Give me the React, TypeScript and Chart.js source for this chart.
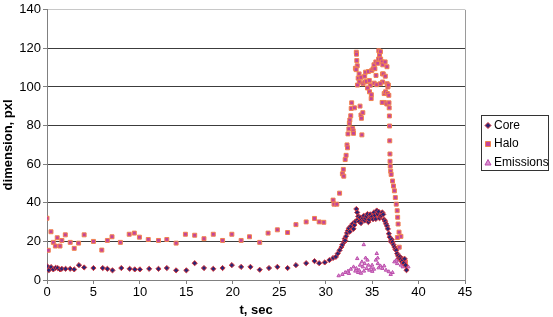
import React, { useEffect, useRef } from "react";
import { Chart, registerables } from "chart.js";

Chart.register(...registerables);

const xTicks = [0, 5, 10, 15, 20, 25, 30, 35, 40, 45];
const yTicks = [0, 20, 40, 60, 80, 100, 120, 140];
const seriesNames = ["Core", "Halo", "Emissions"];

const coreT = [
  0, 0.2, 0.43, 0.68, 0.93, 1.15, 1.4, 1.6, 2.0, 2.5, 2.93, 3.44, 4.0, 5.0, 6.0, 6.5, 7.05, 8.0, 8.9, 9.45,
  10.0, 11.0, 12.0, 12.9, 13.9, 15.0, 15.9, 16.9, 17.9, 18.9, 19.9, 20.9, 21.9, 22.9, 23.9, 24.8, 25.9, 26.8,
  27.9, 28.8, 29.3, 29.9, 30.4, 30.8, 31.1, 31.3, 31.5, 31.7, 31.8, 32.0, 32.05, 32.1, 32.2, 32.3, 32.4, 32.5,
  32.6, 32.7, 32.9, 33.0, 33.1, 33.2, 33.3, 33.4, 33.45, 33.5, 33.6, 33.7, 33.8, 33.9, 34.0, 34.1, 34.2, 34.3,
  34.4, 34.5, 34.6, 34.7, 34.8, 34.9, 35.0, 35.1, 35.2, 35.3, 35.4, 35.5, 35.6, 35.7, 35.8, 35.9, 36.0, 36.1,
  36.2, 36.3, 36.4, 36.5, 36.6, 36.7, 36.8, 36.9, 37.0, 37.1, 37.2, 37.3, 37.4, 37.5, 37.6, 37.7, 37.8, 37.9,
  38.0, 38.1, 38.2, 38.3, 38.4, 38.5, 38.6, 38.7,
];
const coreV = [
  7.2, 5.1, 6.7, 5.5, 6.3, 6.2, 5.5, 5.8, 5.8, 5.8, 5.5, 7.7, 6.5, 6.2, 6.2, 5.8, 5.0, 6.2, 5.8, 5.5,
  5.5, 5.8, 5.8, 6.2, 5.0, 5.0, 8.7, 6.2, 5.8, 6.2, 7.7, 6.8, 6.8, 5.3, 6.2, 6.8, 6.2, 7.7,
  8.7, 9.8, 8.7, 9.1, 10.3, 11.4, 12.0, 13.7, 15.4, 17.1, 18.3, 19.7, 21.4, 20.5, 22.7, 24.4, 25.6, 26.8,
  25.0, 27.8, 29.1, 26.5, 28.5, 30.3, 36.8, 35.0, 31.3, 33.0, 30.3, 32.5, 29.5, 31.3, 32.0, 33.3, 30.8, 31.9,
  33.0, 34.2, 30.0, 31.3, 34.0, 32.5, 33.0, 31.5, 35.0, 33.5, 31.6, 36.0, 34.2, 35.4, 32.0, 33.0, 33.5, 35.0,
  34.0, 31.3, 30.5, 29.1, 28.0, 26.5, 24.0, 22.2, 20.0, 21.0, 19.7, 18.3, 17.1, 16.0, 15.4, 13.7, 12.5, 11.4,
  12.0, 10.8, 9.5, 10.3, 8.8, 11.0, 7.7, 5.1,
];

const haloT = [
  0, 0.14, 0.43, 0.68, 0.9, 1.1, 1.4, 1.6, 1.97, 2.5, 2.93, 3.4, 4.0, 5.0, 5.9, 6.5, 7.0, 7.9, 8.85, 9.4,
  9.95, 10.9, 12.0, 12.9, 13.9, 14.9, 15.9, 16.9, 17.9, 18.9, 19.9, 20.9, 21.8, 22.9, 23.8, 24.8, 25.9, 26.8,
  27.9, 28.8, 29.3, 29.8, 30.8, 30.9, 31.2, 31.5, 31.8, 31.9, 31.95, 32.1, 32.2, 32.3, 32.35, 32.4, 32.5, 32.55,
  32.6, 32.7, 32.75, 32.8, 32.9, 32.96, 33.0, 33.1, 33.7, 33.8, 33.85, 34.0, 33.9, 33.3, 33.32, 33.35, 33.4, 33.2,
  33.28, 33.6, 33.5, 33.62, 33.42, 33.8, 34.02, 34.2, 34.22, 34.3, 34.4, 34.6, 34.7, 34.8, 34.5, 34.72, 34.9, 34.92,
  34.95, 35.1, 35.2, 35.3, 35.4, 35.22, 35.42, 35.5, 35.6, 35.7, 35.8, 35.72, 35.9, 35.92, 36.1, 36.15, 36.4, 36.6,
  36.12, 36.2, 36.42, 36.13, 35.88, 36.62, 36.7, 36.3, 36.45, 36.32, 36.08, 36.58, 36.65, 36.8, 36.75, 36.82, 36.84, 36.86,
  36.88, 36.9, 36.92, 36.93, 36.95, 37.0, 37.05, 37.2, 37.3, 37.4, 37.5, 37.6, 37.7, 37.75, 37.8, 37.9, 38.1, 37.72,
  37.92, 38.12, 38.3, 38.6,
];
const haloV = [
  32.0, 15.4, 25.0, 19.5, 17.6, 21.9, 17.6, 20.5, 23.4, 19.5, 16.4, 19.1, 23.4, 20.0, 15.5, 20.5, 22.4, 19.5, 23.7, 24.3,
  22.2, 21.0, 20.5, 21.0, 19.1, 23.7, 23.2, 21.4, 23.7, 20.5, 23.7, 20.5, 22.4, 19.5, 24.3, 26.0, 24.6, 28.7,
  30.1, 31.9, 30.1, 29.9, 41.4, 39.3, 39.3, 45.0, 55.0, 57.3, 53.8, 62.4, 64.6, 70.0, 68.5, 75.7, 78.3, 81.2,
  82.9, 85.1, 88.9, 91.8, 78.6, 77.3, 76.0, 89.2, 90.1, 85.5, 83.8, 86.7, 75.2, 118.0, 117.0, 113.7, 111.0, 109.7,
  109.0, 106.8, 104.6, 102.6, 101.0, 105.0, 101.7, 105.6, 102.6, 107.7, 102.9, 108.0, 103.4, 100.9, 99.5, 97.5, 94.0, 96.0,
  108.5, 109.4, 111.5, 109.5, 113.0, 102.0, 106.0, 101.2, 112.3, 114.5, 116.6, 118.8, 118.3, 114.5, 113.0, 111.5, 113.0, 110.5,
  106.8, 106.8, 105.6, 102.6, 101.7, 101.7, 100.0, 96.6, 97.5, 92.0, 92.0, 91.2, 96.6, 95.7, 101.0, 91.8, 89.2, 85.0,
  79.8, 72.1, 65.3, 61.5, 59.0, 56.4, 54.7, 51.3, 48.7, 46.2, 42.7, 39.3, 35.9, 32.5, 29.0, 24.8, 22.6, 22.0,
  17.0, 11.1, 10.3, 9.4,
];

const emT = [
  31.4, 31.8, 32.1, 32.4, 32.5, 32.7, 33.0, 33.2, 33.3, 33.4, 33.5, 33.6, 33.7, 33.8, 33.9, 34.0, 34.1, 34.12,
  34.2, 34.3, 34.4, 34.5, 34.6, 34.7, 34.9, 35.0, 35.02, 35.2, 35.4, 35.5, 35.6, 35.62, 35.7, 35.9, 36.1, 36.3,
  36.5, 36.8, 37.0, 37.2, 37.4, 37.6, 37.7, 37.9, 38.1, 38.3, 38.5, 38.6, 38.7, 38.9,
];
const emV = [
  2.2, 2.9, 3.9, 4.6, 3.4, 5.6, 6.8, 4.6, 6.0, 11.1, 3.9, 5.1, 7.7, 3.5, 9.4, 6.8, 18.3, 4.6,
  8.5, 11.4, 6.0, 10.3, 7.7, 5.1, 6.3, 7.7, 4.5, 5.6, 10.3, 13.7, 11.4, 8.5, 6.3, 7.3, 6.0, 7.3,
  5.1, 4.3, 2.9, 3.9, 9.4, 10.3, 8.5, 10.3, 7.7, 6.8, 8.5, 7.3, 6.0, 6.8,
];

const pts = (t: number[], v: number[]) => t.map((x, i) => ({ x, y: v[i] }));

const FONT = "'Liberation Sans', Arial, sans-serif";

const styles = {
  core: { bg: "#2c2574", border: "#d8383c", shape: "rectRot", radius: 2.6 },
  halo: { bg: "#c4449a", border: "#f2844e", shape: "rect", radius: 2.8 },
  em: { bg: "#d98fd0", border: "#bb4cab", shape: "triangle", radius: 2 },
};

const framePlugin = {
  id: "frame",
  afterDatasetsDraw(chart: any) {
    const { ctx, chartArea } = chart;
    ctx.save();
    ctx.strokeStyle = "#9a9a9a";
    ctx.lineWidth = 1;
    ctx.beginPath();
    ctx.moveTo(Math.round(chartArea.right) + 0.5, chartArea.top);
    ctx.lineTo(Math.round(chartArea.right) + 0.5, chartArea.bottom);
    ctx.stroke();
    ctx.restore();
  },
};

const legendPlugin = {
  id: "boxLegend",
  afterDraw(chart: any) {
    const { ctx } = chart;
    ctx.save();
    const left = 481.5;
    const top = 115.5;
    const w = 67;
    const h = 55;
    ctx.fillStyle = "#ffffff";
    ctx.fillRect(left, top, w, h);
    ctx.strokeStyle = "#333333";
    ctx.lineWidth = 1;
    ctx.strokeRect(left, top, w, h);
    const items = [styles.core, styles.halo, styles.em];
    const ys = [125.5, 144, 162.5];
    ctx.font = `12px ${FONT}`;
    ctx.textBaseline = "middle";
    ctx.textAlign = "left";
    items.forEach((s, i) => {
      const cx = 488;
      const cy = ys[i];
      ctx.fillStyle = s.bg;
      ctx.strokeStyle = s.border;
      ctx.lineWidth = 1;
      ctx.beginPath();
      if (s.shape === "rectRot") {
        ctx.moveTo(cx, cy - 3);
        ctx.lineTo(cx + 3, cy);
        ctx.lineTo(cx, cy + 3);
        ctx.lineTo(cx - 3, cy);
        ctx.closePath();
      } else if (s.shape === "rect") {
        ctx.rect(cx - 2.5, cy - 2.5, 5, 5);
      } else {
        ctx.moveTo(cx, cy - 3);
        ctx.lineTo(cx + 3, cy + 2.5);
        ctx.lineTo(cx - 3, cy + 2.5);
        ctx.closePath();
      }
      ctx.fill();
      ctx.stroke();
      ctx.fillStyle = "#000000";
      ctx.fillText(seriesNames[i], 494, cy);
    });
    ctx.restore();
  },
};

export default function App() {
  const ref = useRef<HTMLCanvasElement | null>(null);

  useEffect(() => {
    if (!ref.current) return;
    const mk = (label: string, data: any[], s: any, order: number) => ({
      label,
      data,
      order,
      backgroundColor: s.bg,
      borderColor: s.border,
      borderWidth: 1,
      pointStyle: s.shape,
      pointRadius: s.radius,
      pointHoverRadius: s.radius,
      showLine: false,
    });
    const chart = new Chart(ref.current, {
      type: "scatter",
      data: {
        datasets: [
          mk(seriesNames[0], pts(coreT, coreV), styles.core, 0),
          mk(seriesNames[1], pts(haloT, haloV), styles.halo, 2),
          mk(seriesNames[2], pts(emT, emV), styles.em, 1),
        ],
      },
      options: {
        animation: false,
        responsive: false,
        maintainAspectRatio: false,
        layout: { padding: { top: 7, right: 88, left: 0, bottom: 0 } },
        plugins: { legend: { display: false }, tooltip: { enabled: false } },
        scales: {
          x: {
            type: "linear",
            min: 0,
            max: 45,
            afterFit: (s: any) => {
              s.height = 37;
            },
            afterBuildTicks: (s: any) => {
              s.ticks = xTicks.map((v) => ({ value: v }));
            },
            ticks: {
              color: "#000",
              font: { family: FONT, size: 13 },
              padding: 1,
              maxRotation: 0,
            },
            grid: {
              drawOnChartArea: false,
              tickLength: 4,
              tickColor: "#808080",
            },
            border: { color: "#808080" },
            title: {
              display: true,
              text: "t, sec",
              color: "#000",
              font: { family: FONT, size: 13, weight: "bold" },
              padding: { top: 0, bottom: -1 },
            },
          },
          y: {
            type: "linear",
            min: 0,
            max: 140,
            afterFit: (s: any) => {
              s.width = 47;
            },
            afterBuildTicks: (s: any) => {
              s.ticks = yTicks.map((v) => ({ value: v }));
            },
            ticks: {
              color: "#000",
              font: { family: FONT, size: 13 },
              padding: 2,
            },
            grid: {
              tickLength: 4,
              tickColor: "#808080",
              color: (c: any) =>
                c.tick && c.tick.value === 140 ? "#c8c8c8" : "#3c3c3c",
              lineWidth: 1,
            },
            border: { color: "#808080" },
            title: {
              display: true,
              text: "dimension, pxl",
              color: "#000",
              font: { family: FONT, size: 13, weight: "bold" },
              padding: { top: 1, bottom: 0 },
            },
          },
        },
      } as any,
      plugins: [framePlugin, legendPlugin],
    });
    return () => chart.destroy();
  }, []);

  return (
    <div style={{ position: "fixed", left: 0, top: 0, width: 553, height: 317, background: "#fff" }}>
      <canvas ref={ref} width={553} height={317} style={{ display: "block" }} />
    </div>
  );
}
